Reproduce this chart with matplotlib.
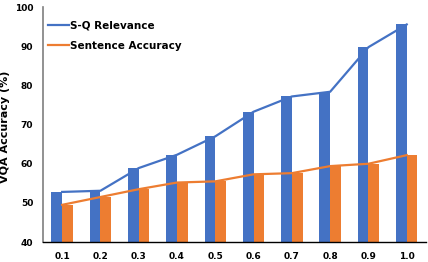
import numpy as np
import matplotlib
matplotlib.use("Agg")
import matplotlib.pyplot as plt

# values
labels = ["0.1", "0.2", "0.3", "0.4", "0.5", "0.6", "0.7", "0.8", "0.9", "1.0"]
sq_relevance = [52.8, 53.1, 58.9, 62.3, 67.0, 73.3, 77.2, 78.4, 89.8, 95.6]
sent_accuracy = [49.5, 51.5, 53.5, 55.2, 55.5, 57.3, 57.6, 59.4, 60.0, 62.2]

blue = "#4472C4"
orange = "#ED7D31"

fig = plt.figure(figsize=(4.28, 2.62), dpi=100)
ax = fig.add_axes([0.1005, 0.0763, 0.8945, 0.896])

x = np.arange(len(labels))
w = 0.28
ax.bar(x - w / 2, sq_relevance, width=w, color=blue, zorder=2)
ax.bar(x + w / 2, sent_accuracy, width=w, color=orange, zorder=2)
ax.plot(x, sq_relevance, color=blue, lw=1.6, label="S-Q Relevance", zorder=3)
ax.plot(x, sent_accuracy, color=orange, lw=1.6, label="Sentence Accuracy", zorder=3)

ax.set_xlim(-0.5, len(labels) - 0.5)
ax.set_ylim(40, 100)
ax.set_yticks(range(40, 101, 10))
ax.set_xticks(x)
ax.set_xticklabels(labels)
for t in ax.get_xticklabels() + ax.get_yticklabels():
    t.set_fontweight("bold")
    t.set_fontsize(6.5)
ax.tick_params(axis="x", length=0, pad=7)
ax.tick_params(axis="y", length=0, pad=7)

ax.spines["top"].set_visible(False)
ax.spines["right"].set_visible(False)
ax.spines["left"].set_color("#7f7f7f")
ax.spines["left"].set_linewidth(1.2)
ax.spines["bottom"].set_color("black")
ax.spines["bottom"].set_linewidth(1.0)

ax.set_ylabel("VQA Accuracy (%)", fontsize=8, fontweight="bold")
ax.yaxis.set_label_coords(-0.085, 0.49)

ax.legend(loc="upper left", frameon=False, prop={"weight": "bold", "size": 7.5},
          handlelength=2.0, handletextpad=0.15, labelspacing=1.0,
          bbox_to_anchor=(-0.012, 0.985), borderaxespad=0.5)

fig.savefig("out.png", dpi=100)
